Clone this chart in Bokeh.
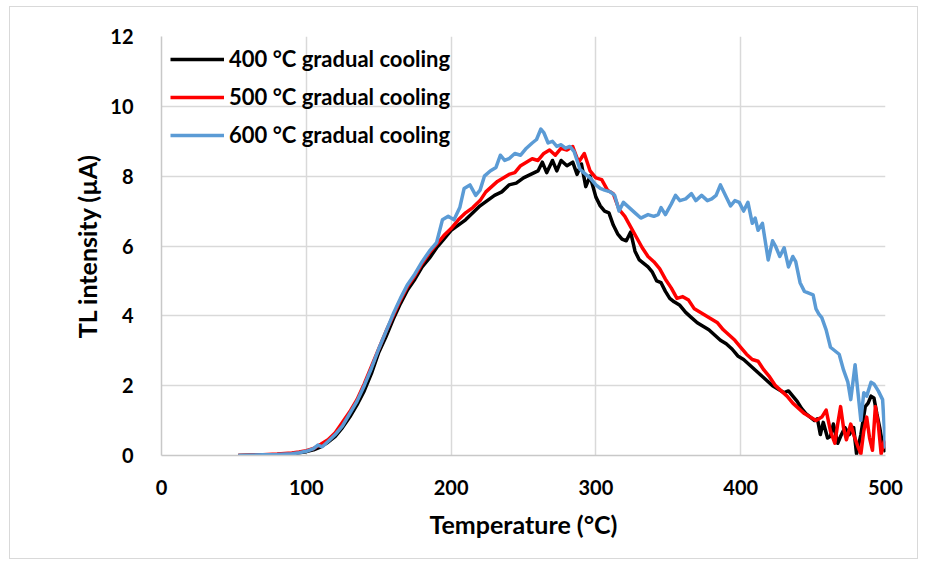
from bokeh.plotting import figure
from bokeh.models import Range1d, FixedTicker, Legend, LegendItem
from bokeh.embed import file_html
from bokeh.resources import INLINE

# ---------------- data ----------------
x_ticks = [0, 100, 200, 300, 400, 500]
y_ticks = [0, 2, 4, 6, 8, 10, 12]

series_labels = ["400 °C gradual cooling", "500 °C gradual cooling", "600 °C gradual cooling"]

t400 = [53, 60, 70, 80, 90, 95, 100, 105, 110, 115,
        120, 125, 130, 135, 140, 145, 150, 155, 160, 165,
        170, 175, 180, 185, 190, 195, 200, 205, 210, 215,
        220, 225, 230, 235, 240, 245, 250, 255, 260, 263,
        266, 270, 273, 276, 280, 284, 287, 290, 293, 296,
        300, 303, 306, 309, 312, 315, 318, 321, 324, 327,
        330, 333, 336, 339, 342, 345, 348, 351, 354, 358,
        362, 366, 370, 374, 378, 382, 386, 390, 394, 398,
        402, 406, 410, 414, 418, 422, 426, 430, 433, 436,
        439, 442, 445, 448, 451, 453, 455, 457, 460, 462,
        464, 467, 469, 472, 475, 478, 480, 483, 486, 488,
        490, 492, 494, 496, 498, 500]
i400 = [0.00, 0.01, 0.02, 0.03, 0.05, 0.08, 0.11, 0.16, 0.25, 0.38,
        0.55, 0.80, 1.10, 1.45, 1.85, 2.35, 2.95, 3.40, 3.90, 4.35,
        4.75, 5.05, 5.40, 5.65, 5.95, 6.20, 6.45, 6.60, 6.75, 6.95,
        7.15, 7.30, 7.45, 7.55, 7.75, 7.80, 7.95, 8.05, 8.15, 8.40,
        8.10, 8.45, 8.15, 8.45, 8.30, 8.40, 8.05, 8.35, 7.70, 8.00,
        7.40, 7.15, 7.00, 6.95, 6.60, 6.35, 6.20, 6.15, 6.40, 5.85,
        5.60, 5.50, 5.40, 5.25, 5.00, 4.95, 4.70, 4.50, 4.40, 4.30,
        4.10, 3.95, 3.80, 3.70, 3.60, 3.45, 3.30, 3.20, 3.05, 2.85,
        2.75, 2.60, 2.45, 2.30, 2.15, 2.00, 1.90, 1.80, 1.85, 1.70,
        1.55, 1.35, 1.20, 1.10, 1.00, 1.05, 0.60, 0.95, 0.50, 0.55,
        0.90, 0.35, 0.55, 0.80, 0.60, 0.80, 0.05, 0.60, 1.40, 1.50,
        1.70, 1.65, 1.20, 0.80, 0.30, 0.10]

t500 = [53, 60, 70, 80, 90, 95, 100, 105, 110, 115,
        120, 125, 130, 135, 140, 145, 150, 155, 160, 165,
        170, 175, 180, 185, 190, 195, 200, 205, 210, 215,
        220, 224, 228, 232, 236, 240, 244, 248, 252, 256,
        260, 264, 268, 272, 276, 280, 284, 288, 292, 296,
        300, 304, 308, 312, 316, 320, 324, 328, 332, 336,
        340, 344, 348, 352, 356, 360, 364, 368, 372, 376,
        380, 384, 388, 392, 396, 400, 404, 408, 412, 416,
        420, 424, 428, 432, 436, 440, 444, 448, 452, 456,
        459, 462, 465, 467, 469, 471, 473, 476, 478, 481,
        483, 485, 487, 489, 491, 493, 495, 497, 499, 500]
i500 = [0.00, 0.01, 0.02, 0.04, 0.07, 0.10, 0.14, 0.20, 0.32, 0.45,
        0.65, 0.95, 1.25, 1.60, 2.05, 2.55, 3.05, 3.55, 4.00, 4.45,
        4.85, 5.15, 5.50, 5.80, 6.05, 6.30, 6.50, 6.75, 6.95, 7.10,
        7.30, 7.55, 7.70, 7.85, 7.95, 8.05, 8.10, 8.30, 8.40, 8.50,
        8.45, 8.65, 8.75, 8.60, 8.80, 8.75, 8.85, 8.40, 8.65, 8.15,
        7.95, 7.90, 7.60, 7.50, 7.05, 6.85, 6.55, 6.25, 5.95, 5.70,
        5.55, 5.35, 5.05, 4.80, 4.50, 4.55, 4.45, 4.20, 4.10, 4.00,
        3.90, 3.80, 3.60, 3.45, 3.30, 3.10, 2.90, 2.75, 2.70, 2.45,
        2.25, 2.00, 1.85, 1.70, 1.50, 1.35, 1.20, 1.10, 1.00, 1.10,
        1.30, 0.70, 0.35, 0.90, 1.40, 0.80, 0.45, 0.90, 0.60, 0.25,
        0.05, 0.70, 1.10, 0.50, 0.15, 1.40, 0.90, 0.05, 0.40, 0.20]

t600 = [53, 60, 70, 80, 90, 95, 100, 105, 108, 111,
        115, 120, 125, 130, 135, 140, 145, 150, 155, 160,
        165, 170, 175, 180, 185, 190, 194, 198, 202, 206,
        209, 213, 217, 220, 223, 227, 231, 234, 237, 240,
        244, 248, 252, 256, 259, 262, 264, 267, 270, 273,
        276, 279, 282, 285, 289, 293, 296, 300, 303, 306,
        310, 313, 316, 319, 323, 327, 331, 336, 340, 343,
        345, 348, 352, 355, 358, 362, 366, 369, 373, 377,
        380, 383, 386, 390, 393, 396, 399, 402, 405, 408,
        410, 412, 415, 419, 422, 424, 427, 430, 433, 436,
        438, 441, 444, 447, 450, 452, 454, 456, 459, 462,
        465, 468, 471, 474, 476, 479, 481, 483, 485, 487,
        490, 492, 495, 498, 500]
i600 = [0.00, 0.01, 0.02, 0.03, 0.05, 0.08, 0.12, 0.20, 0.30, 0.25,
        0.40, 0.60, 0.85, 1.20, 1.55, 2.00, 2.50, 3.05, 3.55, 4.05,
        4.50, 4.90, 5.20, 5.55, 5.85, 6.10, 6.75, 6.85, 6.75, 7.10,
        7.65, 7.75, 7.45, 7.60, 8.00, 8.15, 8.25, 8.60, 8.45, 8.50,
        8.65, 8.60, 8.80, 8.95, 9.05, 9.35, 9.25, 8.95, 9.00, 8.85,
        8.90, 8.80, 8.85, 8.70, 8.20, 8.05, 7.95, 7.75, 7.65, 7.60,
        7.55, 7.45, 7.00, 7.25, 7.10, 6.95, 6.80, 6.90, 6.85, 6.90,
        7.10, 6.90, 7.20, 7.45, 7.30, 7.35, 7.50, 7.30, 7.45, 7.30,
        7.35, 7.45, 7.75, 7.40, 7.15, 7.30, 7.25, 7.00, 7.25, 6.65,
        6.80, 6.45, 6.65, 5.60, 6.15, 6.00, 5.70, 5.95, 5.40, 5.70,
        5.55, 4.95, 4.70, 4.65, 4.60, 4.20, 4.05, 3.95, 3.60, 3.10,
        3.00, 2.90, 2.45, 2.10, 1.60, 2.60, 1.80, 1.00, 1.80, 1.70,
        2.10, 2.05, 1.85, 1.60, 0.20]

# ---------------- figure ----------------
FONT = "Lato"
p = figure(width=909, height=553,
           x_range=Range1d(0, 500), y_range=Range1d(0, 12),
           output_backend="svg", toolbar_location=None,
           min_border_left=151, min_border_right=34,
           min_border_top=29, min_border_bottom=105,
           margin=(6, 0, 0, 9))
p.styles = {"border": "1px solid #D9D9D9"}
p.outline_line_color = None
p.background_fill_color = "white"
p.border_fill_color = "white"

for g in (p.xgrid, p.ygrid):
    g.grid_line_color = "#D9D9D9"
    g.grid_line_width = 1.5
p.xgrid.ticker = FixedTicker(ticks=x_ticks)
p.ygrid.ticker = FixedTicker(ticks=y_ticks)

p.xaxis.ticker = FixedTicker(ticks=x_ticks)
p.yaxis.ticker = FixedTicker(ticks=y_ticks)
for ax in (p.xaxis[0], p.yaxis[0]):
    ax.major_tick_line_color = None
    ax.minor_tick_line_color = None
    ax.axis_line_color = "#C8C8C8"
    ax.axis_line_width = 1.5
    ax.major_label_text_font = FONT
    ax.major_label_text_font_style = "bold"
    ax.major_label_text_font_size = "20px"
    ax.major_label_text_color = "black"
    ax.axis_label_text_font = FONT
    ax.axis_label_text_font_style = "bold"
    ax.axis_label_text_font_size = "25px"
    ax.axis_label_text_color = "black"

p.xaxis.axis_label = "Temperature (°C)"
p.yaxis.axis_label = "TL intensity (µA)"
p.xaxis.major_label_standoff = 18
p.yaxis.major_label_standoff = 22
p.xaxis.axis_label_standoff = 11
p.yaxis.axis_label_standoff = 5

r1 = p.line(t400, i400, line_color="#000000", line_width=3.5, line_join="round")
r2 = p.line(t500, i500, line_color="#FF0000", line_width=3.5, line_join="round")
r3 = p.line(t600, i600, line_color="#5B9BD5", line_width=3.5, line_join="round")

legend = Legend(items=[LegendItem(label=series_labels[0], renderers=[r1]),
                       LegendItem(label=series_labels[1], renderers=[r2]),
                       LegendItem(label=series_labels[2], renderers=[r3])],
                location="top_left")
legend.label_text_font = FONT
legend.label_text_font_style = "bold"
legend.label_text_font_size = "22px"
legend.label_text_color = "black"
legend.glyph_width = 54
legend.glyph_height = 20
legend.label_height = 20
legend.spacing = 11
legend.padding = 9
legend.margin = 0
legend.label_standoff = 5
legend.background_fill_alpha = 0
legend.border_line_alpha = 0
p.add_layout(legend)

open("out.html", "w").write(file_html(p, INLINE))
